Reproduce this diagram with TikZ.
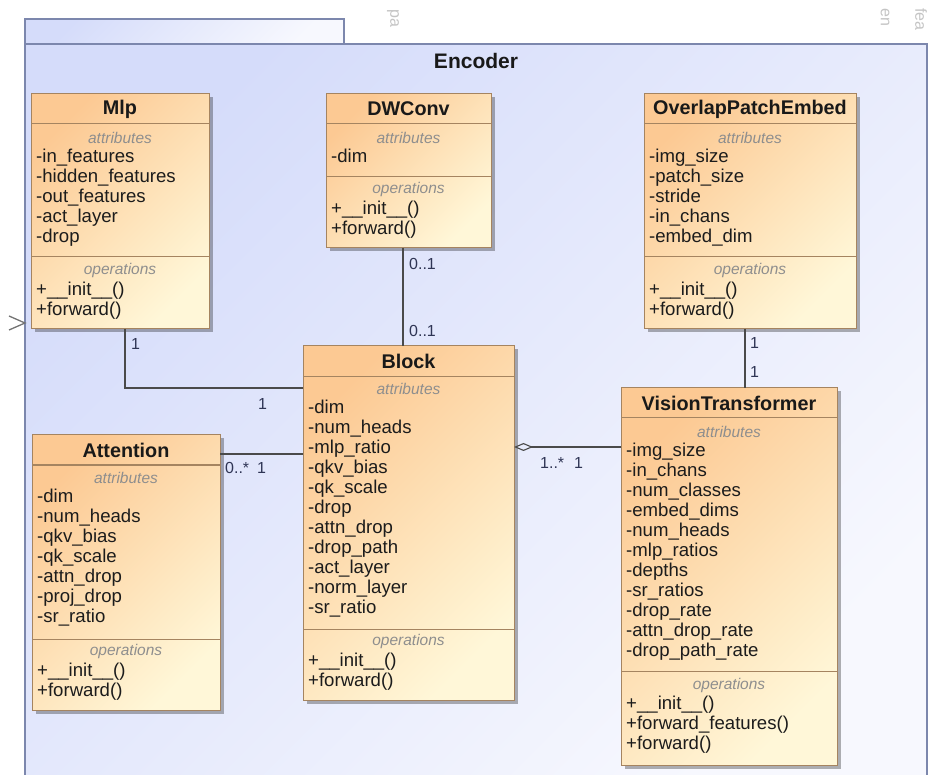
\documentclass[tikz,border=0pt]{standalone}
\usepackage{fontspec}
\setmainfont{Liberation Sans}
\usetikzlibrary{shadows,arrows.meta}

\definecolor{pkgline}{HTML}{7C87AD}
\definecolor{pkgA}{HTML}{D5DCFA}
\definecolor{pkgB}{HTML}{F7F8FE}
\definecolor{clsline}{HTML}{A58460}
\definecolor{clsA}{HTML}{FCC993}
\definecolor{clsB}{HTML}{FFF7D8}
\definecolor{seclbl}{HTML}{8E8E8E}
\definecolor{membertxt}{HTML}{1C1C1C}
\definecolor{multtxt}{HTML}{2F3555}
\definecolor{linkline}{HTML}{4A4A4A}
\definecolor{ghosttxt}{HTML}{C4C4C4}

\tikzset{
  pkgshape/.style={draw=pkgline, line width=1.3pt, inner sep=0pt, outer sep=0pt,
    top color=pkgA, bottom color=pkgB, shading angle=45},
  enctitle/.style={font=\fontsize{21}{24}\selectfont\bfseries, text=black!90, inner sep=0pt},
  classbox/.style={draw=clsline, line width=1pt, inner sep=0pt, outer sep=0pt,
    top color=clsA, bottom color=clsB, shading angle=45,
    drop shadow={shadow xshift=3.5pt, shadow yshift=-3.5pt, fill=black, opacity=0.3}},
  classtitle/.style={font=\fontsize{19.8}{22}\selectfont\bfseries, text=black!90, inner sep=0pt},
  classsep/.style={draw=clsline, line width=1pt},
  seclabel/.style={font=\fontsize{15.5}{18}\selectfont\itshape, text=seclbl, inner sep=0pt},
  members/.style={font=\fontsize{18.6}{20}\selectfont, text=membertxt, align=left, inner sep=0pt},
  assoc/.style={draw=linkline, line width=1.2pt},
  mult/.style={font=\fontsize{16}{18}\selectfont, text=multtxt, inner sep=0pt, anchor=west},
  chevron/.style={draw=black!55, line width=1.3pt, line join=miter},
  ghost/.style={font=\fontsize{16}{18}\selectfont, text=ghosttxt, inner sep=0pt, rotate=-90, anchor=west}
}

% #1 node name, #2 left, #3 top, #4 width, #5 height, #6 title
\newcommand\umlclass[6]{%
  \node[classbox, minimum width=#4, minimum height=#5, anchor=north west] (#1) at (#2,#3) {};
  \node[classtitle] (#1-title) at (#1.north |- 0,#3+15) {#6};
}
% #1 class, #2 part, #3 separator y, #4 label y, #5 label, #6 first row top, #7 rows
\newcommand\compartment[7]{%
  \draw[classsep] (#1.west |- 0,#3) -- (#1.east |- 0,#3);
  \node[seclabel] (#1-#2-label) at (#1.north |- 0,#4) {#5};
  \node[members, anchor=north west] (#1-#2) at ([xshift=5pt]#1.west |- 0,#6) {\strut #7};
}

\begin{document}
\begin{tikzpicture}[x=1pt, y=-1pt]
\useasboundingbox (0,0) rectangle (932,775);
\clip (0,0) rectangle (932,775);

% labels of neighbouring elements, mostly hidden behind the package
\node[ghost] (g-pa) at (393,9) {pa};
\node[ghost] (g-en) at (885,8) {en};
\node[ghost] (g-fea) at (921,8) {fea};

% package Encoder
\node[pkgshape, minimum width=319, minimum height=26, anchor=north west] (tab) at (25,19) {};
\node[pkgshape, minimum width=902, minimum height=745, anchor=north west] (enc) at (25,44) {};
\node[enctitle] (enc-title) at (476,61) {Encoder};

% incoming dependency arrowhead on the package border
\coordinate (inflow) at (enc.west |- 0,323);
\draw[chevron] ([shift={(-16,-7)}]inflow) -- (inflow) -- ([shift={(-16,7)}]inflow);

% ---------------- classes ----------------
\umlclass{mlp}{31}{94}{178}{235}{Mlp}
\compartment{mlp}{attrs}{124}{138}{attributes}{148}{-in\_features\\-hidden\_features\\-out\_features\\-act\_layer\\-drop}
\compartment{mlp}{ops}{257}{270}{operations}{281}{+\_\_init\_\_()\\+forward()}

\umlclass{dw}{326}{94}{165}{154}{DWConv}
\compartment{dw}{attrs}{124}{138}{attributes}{148}{-dim}
\compartment{dw}{ops}{177}{189}{operations}{200}{+\_\_init\_\_()\\+forward()}

\umlclass{ope}{644}{94}{212}{235}{OverlapPatchEmbed}
\compartment{ope}{attrs}{124}{138}{attributes}{148}{-img\_size\\-patch\_size\\-stride\\-in\_chans\\-embed\_dim}
\compartment{ope}{ops}{257}{270}{operations}{281}{+\_\_init\_\_()\\+forward()}

\umlclass{blk}{303}{346}{211}{354}{Block}
\compartment{blk}{attrs}{377}{389}{attributes}{399}{-dim\\-num\_heads\\-mlp\_ratio\\-qkv\_bias\\-qk\_scale\\-drop\\-attn\_drop\\-drop\_path\\-act\_layer\\-norm\_layer\\-sr\_ratio}
\compartment{blk}{ops}{629}{641}{operations}{652}{+\_\_init\_\_()\\+forward()}

\umlclass{att}{32}{435}{188}{275}{Attention}
\compartment{att}{attrs}{465}{478}{attributes}{488}{-dim\\-num\_heads\\-qkv\_bias\\-qk\_scale\\-attn\_drop\\-proj\_drop\\-sr\_ratio}
\compartment{att}{ops}{639}{651}{operations}{662}{+\_\_init\_\_()\\+forward()}

\umlclass{vt}{621}{388}{216}{377}{VisionTransformer}
\compartment{vt}{attrs}{418}{432}{attributes}{442}{-img\_size\\-in\_chans\\-num\_classes\\-embed\_dims\\-num\_heads\\-mlp\_ratios\\-depths\\-sr\_ratios\\-drop\_rate\\-attn\_drop\_rate\\-drop\_path\_rate}
\compartment{vt}{ops}{671}{685}{operations}{695}{+\_\_init\_\_()\\+forward\_features()\\+forward()}

% ---------------- associations ----------------
\draw[assoc] ([xshift=-5.5pt]dw.south) -- ([xshift=-5.5pt]blk.north);
\node[mult] (m-dw-1) at (409,264) {0..1};
\node[mult] (m-dw-2) at (409,331) {0..1};

\draw[assoc] ([xshift=-5pt]ope.south) -- ([xshift=-5pt]ope.south |- vt.north);
\node[mult] (m-ope-1) at (750,343) {1};
\node[mult] (m-ope-2) at (750,372) {1};

\draw[assoc] ([xshift=5pt]mlp.south) |- ([yshift=-42pt]blk.north west);
\node[mult] (m-mlp-1) at (131,344) {1};
\node[mult] (m-mlp-2) at (258,404) {1};

\draw[assoc] ([yshift=-19pt]att.north east) -- ([yshift=-19pt]att.north east -| blk.west);
\node[mult] (m-att-1) at (225,468) {0..*};
\node[mult] (m-att-2) at (257,468) {1};

\draw[assoc, {Diamond[open, length=19pt, width=8pt, line width=1.1pt]}-] ([yshift=-101pt]blk.north east) -- ([yshift=-101pt]blk.north east -| vt.west);
\node[mult] (m-vt-1) at (540,463) {1..*};
\node[mult] (m-vt-2) at (574,463) {1};

\end{tikzpicture}
\end{document}
